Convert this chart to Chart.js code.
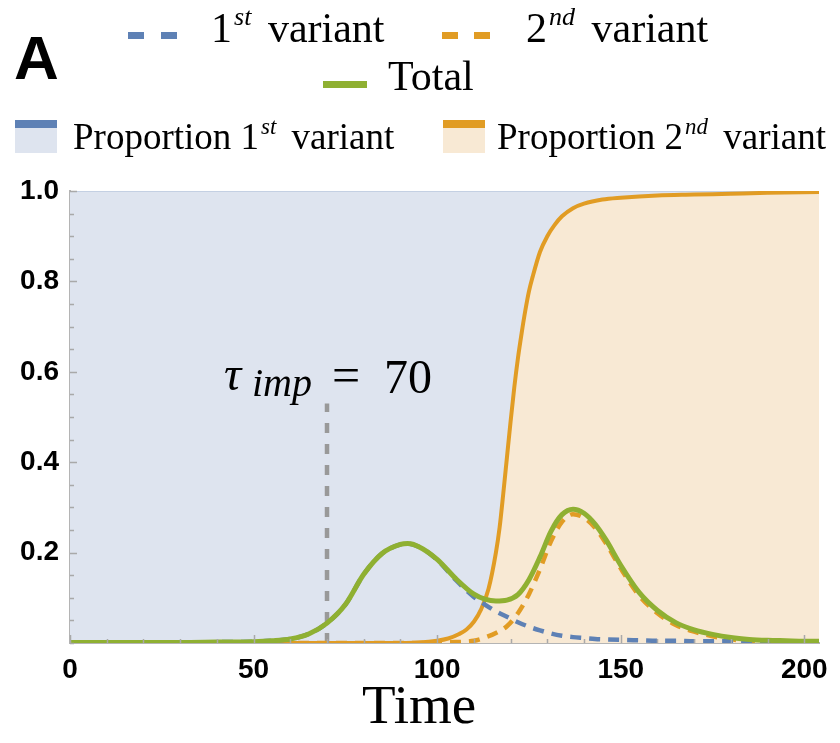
<!DOCTYPE html>
<html>
<head>
<meta charset="utf-8">
<script src="https://cdn.jsdelivr.net/npm/chart.js@4"></script>
<style>
  body { margin: 0; background: #fff; }
  #wrap { position: relative; width: 840px; height: 743px; }
  #chart { position: absolute; left: 0; top: 0; }
  .lg { position: absolute; font-family: "Liberation Serif", serif; color: #000; line-height: 1; white-space: nowrap; }
  .lg sup { font-style: italic; font-size: 0.62em; line-height: 0; vertical-align: 0.64em; margin-left: 2px; margin-right: 6px; }
  .swatch { position: absolute; height: 7px; }
  .box { position: absolute; width: 42px; height: 25px; border-top: 8px solid; }
  .panel { position: absolute; left: 14px; top: 27px; font: bold 62px "Liberation Sans", sans-serif; line-height: 1; }
</style>
</head>
<body>
<div id="wrap">
  <canvas id="chart" width="840" height="743"></canvas>
  <div class="panel">A</div>

  <div class="swatch" style="left:128px;top:32px;width:16px;background:#5e81b5"></div>
  <div class="swatch" style="left:161px;top:32px;width:16px;background:#5e81b5"></div>
  <div class="lg" style="left:211px;top:7px;font-size:42px">1<sup>st</sup> variant</div>

  <div class="swatch" style="left:442px;top:32px;width:16px;background:#e19c24"></div>
  <div class="swatch" style="left:474px;top:32px;width:16px;background:#e19c24"></div>
  <div class="lg" style="left:526px;top:7px;font-size:42px">2<sup>nd</sup> variant</div>

  <div class="swatch" style="left:323px;top:81px;width:44px;background:#8fb032"></div>
  <div class="lg" style="left:388px;top:55px;font-size:42px">Total</div>

  <div class="box" style="left:15px;top:120px;background:#dee4ef;border-color:#5e81b5"></div>
  <div class="lg" style="left:73px;top:118px;font-size:37px">Proportion 1<sup>st</sup> variant</div>
  <div class="box" style="left:443px;top:120px;background:#f8e9d4;border-color:#e19c24"></div>
  <div class="lg" style="left:497px;top:118px;font-size:37px">Proportion 2<sup>nd</sup> variant</div>

  <div class="lg" style="left:362px;top:677px;font-size:55px">Time</div>
</div>

<script>
// epidemic curves (fraction infected) sampled over time
const time = [0, 10, 20, 30, 40, 50, 55, 60, 65, 70, 75, 80, 85, 90, 92, 95, 100, 105, 110, 113,
  116, 119, 122, 125, 128, 131, 134, 137, 140, 143, 146, 150, 155, 160, 165, 170, 175, 180, 185, 190,
  195, 200, 204];
const totalInfected = [0.001, 0.001, 0.001, 0.001, 0.002, 0.003, 0.005, 0.009, 0.02, 0.044, 0.085, 0.152, 0.198, 0.218, 0.22, 0.213, 0.185, 0.143, 0.108, 0.097,
  0.093, 0.095, 0.107, 0.14, 0.19, 0.247, 0.284, 0.296, 0.287, 0.263, 0.228, 0.172, 0.112, 0.072, 0.045, 0.029, 0.019, 0.012, 0.008, 0.006,
  0.005, 0.004, 0.004];
const firstVariant = [0.001, 0.001, 0.001, 0.001, 0.002, 0.003, 0.005, 0.009, 0.02, 0.044, 0.085, 0.152, 0.198, 0.218, 0.22, 0.213, 0.184, 0.14, 0.102, 0.085,
  0.07, 0.058, 0.046, 0.036, 0.028, 0.021, 0.016, 0.013, 0.011, 0.009, 0.008, 0.007, 0.006, 0.005, 0.005, 0.004, 0.004, 0.004, 0.003, 0.003,
  0.003, 0.003, 0.003];
const secondVariant = [0, 0, 0, 0, 0, 0, 0, 0, 0, 0, 0, 0, 0, 0, 0, 0, 0.001, 0.002, 0.005, 0.012,
  0.022, 0.037, 0.066, 0.108, 0.163, 0.225, 0.268, 0.285, 0.277, 0.255, 0.22, 0.165, 0.105, 0.066, 0.04, 0.025, 0.015, 0.008, 0.005, 0.003,
  0.002, 0.001, 0.001];

// share of infections caused by the 2nd variant
const timeProp = [0, 70, 90, 95, 100, 103, 106, 108, 110, 112, 114, 116, 117, 118, 119, 120, 121, 122, 123, 124,
  125, 126, 128, 130, 132, 134, 137, 140, 145, 150, 160, 170, 180, 190, 204];
const propSecond = [0, 0, 0, 0.001, 0.005, 0.01, 0.02, 0.03, 0.047, 0.075, 0.12, 0.2, 0.255, 0.33, 0.41, 0.49, 0.565, 0.63, 0.685, 0.735,
  0.778, 0.81, 0.865, 0.9, 0.925, 0.944, 0.962, 0.972, 0.981, 0.985, 0.99, 0.992, 0.994, 0.996, 0.998];
const propFirst = propSecond.map(v => 1 - v);

// import time of the 2nd variant and height of its marker
const tauImport = 70;
const tauMarkerTop = 0.53;

const xTicksMajor = [0, 50, 100, 150, 200];
const yTicksMajor = [0.2, 0.4, 0.6, 0.8, 1.0];

const BLUE = 'rgb(94,129,181)';
const ORANGE = 'rgb(225,156,36)';
const GREEN = 'rgb(143,176,50)';
const TICK_FONT = { family: 'Liberation Sans', weight: 'bold', size: 28 };

const pts = (xs, ys) => xs.map((x, i) => ({ x: x, y: ys[i] }));

// tick marks drawn inward, longer on labelled values
const innerTicks = {
  id: 'innerTicks',
  afterDatasetsDraw(chart) {
    const { ctx, chartArea, scales: { x, y } } = chart;
    ctx.save();
    ctx.strokeStyle = '#a9a9a9';
    ctx.lineWidth = 1.5;
    ctx.beginPath();
    x.ticks.forEach(t => {
      const px = Math.round(x.getPixelForValue(t.value)) + 0.5;
      const len = xTicksMajor.includes(t.value) ? 8 : 4;
      ctx.moveTo(px, chartArea.bottom);
      ctx.lineTo(px, chartArea.bottom - len);
    });
    y.ticks.forEach(t => {
      const py = Math.round(y.getPixelForValue(t.value)) + 0.5;
      const major = yTicksMajor.some(v => Math.abs(v - t.value) < 1e-6);
      ctx.moveTo(chartArea.left, py);
      ctx.lineTo(chartArea.left + (major ? 7 : 4), py);
    });
    ctx.stroke();
    ctx.restore();
  }
};

// label for the import time above the dashed marker
const tauLabel = {
  id: 'tauLabel',
  afterDraw(chart) {
    const { ctx, scales: { x, y } } = chart;
    const px = x.getPixelForValue(tauImport);
    const base = y.getPixelForValue(tauMarkerTop) - 10;
    ctx.save();
    ctx.fillStyle = '#000';
    ctx.textBaseline = 'alphabetic';
    ctx.font = 'italic 48px "Liberation Serif"';
    ctx.fillText('τ', px - 103, base - 3);
    ctx.font = 'italic 40px "Liberation Serif"';
    ctx.fillText('imp', px - 75, base + 3);
    ctx.font = '50px "Liberation Serif"';
    ctx.fillText('=', px + 5, base - 1);
    ctx.font = '48px "Liberation Serif"';
    ctx.fillText(tauImport, px + 57, base);
    ctx.restore();
  }
};

const lineBase = { pointRadius: 0, fill: false, cubicInterpolationMode: 'monotone', yAxisID: 'y' };

new Chart(document.getElementById('chart'), {
  type: 'line',
  data: {
    datasets: [
      Object.assign({}, lineBase, {
        label: 'Total', data: pts(time, totalInfected),
        borderColor: GREEN, borderWidth: 5, order: 1
      }),
      Object.assign({}, lineBase, {
        label: '1st variant', data: pts(time, firstVariant),
        borderColor: BLUE, borderWidth: 4.5, borderDash: [11, 8], order: 2
      }),
      Object.assign({}, lineBase, {
        label: '2nd variant', data: pts(time, secondVariant),
        borderColor: ORANGE, borderWidth: 4.5, borderDash: [11, 8], order: 3
      }),
      {
        label: 'tau', data: [{ x: tauImport, y: 0 }, { x: tauImport, y: tauMarkerTop }],
        borderColor: '#999999', borderWidth: 4.5, borderDash: [10, 11],
        pointRadius: 0, fill: false, tension: 0, yAxisID: 'y', order: 4
      },
      {
        label: 'Proportion 2nd variant', data: pts(timeProp, propSecond),
        borderColor: ORANGE, borderWidth: 4, backgroundColor: '#f8e9d4',
        fill: 'origin', pointRadius: 0, cubicInterpolationMode: 'monotone',
        yAxisID: 'yp', order: 5
      },
      {
        label: 'Proportion 1st variant', data: pts(timeProp, propFirst),
        borderColor: 'rgba(94,129,181,0.2)', borderWidth: 2, backgroundColor: '#dee4ef',
        fill: '-1', pointRadius: 0, cubicInterpolationMode: 'monotone',
        yAxisID: 'yp', order: 6
      }
    ]
  },
  options: {
    responsive: false,
    animation: false,
    layout: { padding: { left: 0, top: 191, right: 21, bottom: 0 } },
    plugins: {
      legend: { display: false },
      tooltip: { enabled: false }
    },
    scales: {
      x: {
        type: 'linear', min: 0, max: 204,
        grid: { display: false },
        border: { display: true, color: '#b4b4b4', width: 2 },
        ticks: {
          stepSize: 10, autoSkip: false, includeBounds: false, maxRotation: 0, padding: 2,
          color: '#000', font: TICK_FONT,
          callback: v => (xTicksMajor.includes(v) ? String(v) : '')
        },
        afterFit: axis => { axis.height = 100; }
      },
      y: {
        min: 0, max: 1,
        grid: { display: false },
        border: { display: true, color: '#b4b4b4', width: 2 },
        ticks: {
          stepSize: 0.05, autoSkip: false, padding: 3,
          color: '#000', font: TICK_FONT,
          callback: v => (yTicksMajor.some(m => Math.abs(m - v) < 1e-6) ? v.toFixed(1) : '')
        },
        afterFit: axis => { axis.width = 70; }
      },
      yp: { display: false, stacked: true, min: 0, max: 1 }
    }
  },
  plugins: [innerTicks, tauLabel]
});
</script>
</body>
</html>
